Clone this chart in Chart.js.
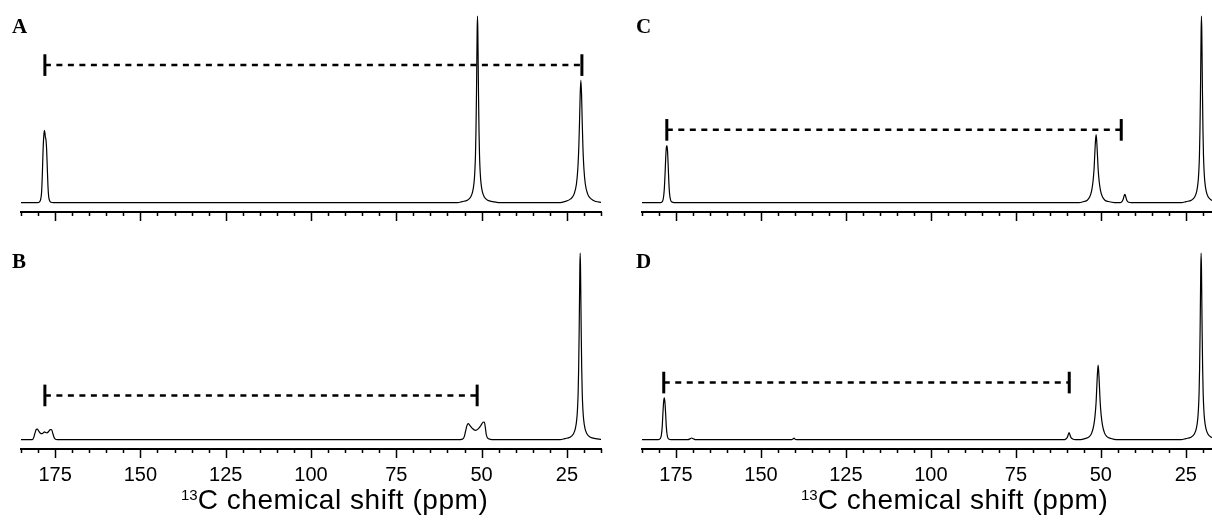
<!DOCTYPE html>
<html>
<head>
<meta charset="utf-8">
<script src="https://cdn.jsdelivr.net/npm/chart.js@4.4.0/dist/chart.umd.min.js"></script>
<style>
  body { margin: 0; background: #fff; width: 1212px; height: 521px; overflow: hidden; position: relative; }
  canvas { position: absolute; }
  .tag { position: absolute; font: bold 21px "Liberation Serif", "Times New Roman", serif; line-height: 1; color: #000; }
  .axis-title { position: absolute; font: 28px "Liberation Sans", Arial, sans-serif; line-height: 1; color: #000;
      white-space: nowrap; letter-spacing: 0.55px; }
  .axis-title sup { font-size: 15px; vertical-align: 9px; line-height: 0; letter-spacing: 0; }
</style>
</head>
<body>
<canvas id="chartA" width="606" height="224" style="left:0;top:0"></canvas>
<canvas id="chartC" width="606" height="224" style="left:606px;top:0"></canvas>
<canvas id="chartB" width="606" height="284" style="left:0;top:237px"></canvas>
<canvas id="chartD" width="606" height="284" style="left:606px;top:237px"></canvas>
<div class="tag" style="left:12px;top:16px">A</div>
<div class="tag" style="left:12px;top:251px">B</div>
<div class="tag" style="left:636px;top:16px">C</div>
<div class="tag" style="left:636px;top:251px">D</div>
<div class="axis-title" style="left:181px;top:486px"><sup>13</sup>C chemical shift (ppm)</div>
<div class="axis-title" style="left:801px;top:486px"><sup>13</sup>C chemical shift (ppm)</div>
<script>
// axis ticks (ppm), every 5 ppm, labelled every 25
const tickValues = [185, 180, 175, 170, 165, 160, 155, 150, 145, 140, 135, 130, 125, 120, 115, 110,
    105, 100, 95, 90, 85, 80, 75, 70, 65, 60, 55, 50, 45, 40, 35, 30, 25, 20, 15];
const labelValues = [175, 150, 125, 100, 75, 50, 25];

// spectra: [ppm, relative intensity]
const spectrumA = [
    [185, 0], [180.2, 0], [179.5, 0.6], [179.2, 2], [178.95, 6], [178.75, 15], [178.55, 27], [178.35, 35],
    [178.15, 38.7], [178.0, 37.5], [177.85, 35], [177.7, 34], [177.5, 29], [177.3, 19], [177.1, 9],
    [176.9, 3.5], [176.6, 1], [176.2, 0.2], [175.5, 0],
    [57, 0], [55.7, 0.6], [54.2, 1.3], [53.2, 3], [52.6, 6], [52.2, 11], [52.0, 16], [51.8, 25],
    [51.65, 38], [51.5, 58], [51.4, 75], [51.3, 92], [51.2, 100], [51.1, 92], [51.0, 75], [50.9, 58],
    [50.75, 38], [50.6, 25], [50.4, 16], [50.2, 11], [49.8, 6], [49.2, 3], [48.2, 1.3], [46.7, 0.6], [45, 0],
    [27, 0], [25.6, 0.6], [23.9, 2], [22.9, 4.6], [22.2, 10], [21.8, 18], [21.5, 30], [21.3, 43],
    [21.1, 58], [20.9, 65.6], [20.7, 58], [20.5, 43], [20.3, 30], [20.0, 18], [19.6, 10], [18.9, 4.6],
    [17.9, 2], [16.5, 0.6], [15, 0.2]
];
const spectrumB = [
    [185, 0], [181.7, 0], [181.3, 1], [180.9, 3.5], [180.5, 5.5], [180.2, 5.6], [179.8, 4.6], [179.3, 3.4],
    [178.9, 3.2], [178.5, 3.6], [178.1, 4.2], [177.8, 3.8], [177.4, 3.6], [176.9, 4.4], [176.4, 5.4],
    [176.0, 5.3], [175.7, 3.5], [175.3, 1.2], [174.9, 0.2], [174.3, 0],
    [57, 0], [55.6, 0.3], [55.1, 1.5], [54.7, 4.5], [54.3, 7.5], [53.9, 8.6], [53.5, 7.8], [52.8, 6.2],
    [51.8, 5.0], [51.0, 5.8], [50.2, 7.6], [49.6, 9.3], [49.2, 9.4], [48.9, 6.5], [48.6, 2.5], [48.2, 0.8],
    [47.5, 0.2], [46, 0],
    [27, 0], [25.6, 0.6], [24.1, 1.3], [23.1, 3], [22.5, 6], [22.1, 11], [21.9, 16], [21.7, 25],
    [21.55, 38], [21.4, 58], [21.3, 75], [21.2, 92], [21.1, 100], [21.0, 92], [20.9, 75], [20.8, 58],
    [20.65, 38], [20.5, 25], [20.3, 16], [20.1, 11], [19.7, 6], [19.1, 3], [18.1, 1.3], [16.6, 0.6], [15, 0.2]
];
const spectrumC = [
    [185, 0], [179.5, 0], [179.0, 0.6], [178.7, 2.5], [178.45, 7], [178.2, 16], [178.0, 25], [177.8, 30],
    [177.65, 30.5], [177.5, 28], [177.3, 20], [177.1, 11], [176.9, 5], [176.6, 1.5], [176.2, 0.3], [175.5, 0],
    [56.5, 0], [55, 0.6], [54, 1.3], [53.3, 3], [52.7, 6.5], [52.3, 11.5], [52.0, 18], [51.8, 25.5],
    [51.6, 32.5], [51.4, 36.5], [51.2, 32.5], [51.0, 25.5], [50.8, 18], [50.5, 11.5], [50.1, 6.5],
    [49.5, 3], [48.8, 1.3], [47.8, 0.6], [46, 0],
    [44.4, 0], [43.8, 0.6], [43.4, 2], [43.1, 4], [42.9, 4.5], [42.65, 3], [42.3, 1], [41.8, 0.2], [41, 0],
    [26.3, 0], [24.9, 0.6], [23.4, 1.3], [22.4, 3], [21.8, 6], [21.4, 11], [21.2, 16], [21.0, 25],
    [20.85, 38], [20.7, 58], [20.6, 75], [20.5, 92], [20.4, 100], [20.3, 92], [20.2, 75], [20.1, 58],
    [19.95, 38], [19.8, 25], [19.6, 16], [19.4, 11], [19.0, 6], [18.4, 3], [17.4, 1.3], [17.3, 1.2]
];
const spectrumD = [
    [185, 0], [180.2, 0], [179.6, 0.6], [179.3, 2.5], [179.05, 7], [178.85, 14], [178.65, 20],
    [178.45, 22.4], [178.25, 20], [178.05, 14], [177.85, 7], [177.6, 2.5], [177.3, 0.6], [176.8, 0.1], [176, 0],
    [171.5, 0], [170.9, 0.4], [170.4, 0.9], [169.9, 0.5], [169.2, 0],
    [141, 0], [140.5, 0.5], [140.25, 0.9], [140.0, 0.3], [139.5, 0],
    [61, 0], [60.3, 0.4], [59.9, 1.2], [59.6, 2.6], [59.35, 3.8], [59.1, 2.6], [58.8, 1.2], [58.3, 0.4], [57.5, 0],
    [56, 0], [54.5, 0.7], [53.4, 1.6], [52.7, 3.5], [52.1, 7.5], [51.7, 13], [51.4, 20], [51.2, 28],
    [51.0, 35.5], [50.8, 40], [50.6, 35.5], [50.4, 28], [50.2, 20], [49.9, 13], [49.5, 7.5], [48.9, 3.5],
    [48.2, 1.6], [47.1, 0.7], [45.5, 0],
    [26.4, 0], [25, 0.6], [23.5, 1.3], [22.5, 3], [21.9, 6], [21.5, 11], [21.3, 16], [21.1, 25],
    [20.95, 38], [20.8, 58], [20.7, 75], [20.6, 92], [20.5, 100], [20.4, 92], [20.3, 75], [20.2, 58],
    [20.05, 38], [19.9, 25], [19.7, 16], [19.5, 11], [19.1, 6], [18.5, 3], [17.5, 1.3], [17.3, 1.2]
];

// dashed brackets: [from ppm, to ppm, intensity level]
const bracketA = [178.0, 20.6, 73.7];
const bracketB = [178.0, 51.3, 23.7];
const bracketC = [177.7, 44.0, 39.0];
const bracketD = [178.6, 59.3, 30.6];

const BAR_HALF = 5.8;

// tick marks drawn on the x scale, long for labelled ones
const tickMarks = {
    id: 'tickMarks',
    afterDraw(chart) {
        const x = chart.scales.x;
        const ctx = chart.ctx;
        ctx.save();
        ctx.strokeStyle = '#000';
        ctx.lineWidth = 1.5;
        tickValues.forEach(v => {
            if (v < x.min || v > x.max) return;
            const px = Math.round(x.getPixelForValue(v)) + 0.5;
            const len = labelValues.includes(v) ? 9 : 4;
            ctx.beginPath();
            ctx.moveTo(px, x.top);
            ctx.lineTo(px, x.top + len);
            ctx.stroke();
        });
        ctx.restore();
    }
};

const makePanel = (id, spectrum, bracket, xMin, showLabels, padLeft, padRight, axisHeight) => {
    const [from, to, level] = bracket;
    const datasets = [{
        data: spectrum.map(p => ({ x: p[0], y: p[1] })),
        borderColor: '#000',
        borderWidth: 1.2,
        cubicInterpolationMode: 'monotone'
    }, {
        data: [{ x: from, y: level }, { x: to, y: level }],
        borderColor: '#000',
        borderWidth: 2.5,
        borderDash: [6, 5.5]
    }, {
        data: [{ x: from, y: level - BAR_HALF }, { x: from, y: level + BAR_HALF }],
        borderColor: '#000',
        borderWidth: 3
    }, {
        data: [{ x: to, y: level - BAR_HALF }, { x: to, y: level + BAR_HALF }],
        borderColor: '#000',
        borderWidth: 3
    }];
    return new Chart(document.getElementById(id), {
        type: 'line',
        data: { datasets: datasets },
        plugins: [tickMarks],
        options: {
            responsive: false,
            animation: false,
            devicePixelRatio: 1,
            layout: { padding: { left: padLeft, right: padRight, top: 16, bottom: 0 } },
            elements: { point: { radius: 0 }, line: { tension: 0 } },
            datasets: { line: { clip: false } },
            plugins: { legend: { display: false }, tooltip: { enabled: false } },
            scales: {
                x: {
                    type: 'linear',
                    reverse: true,
                    min: xMin,
                    max: 185,
                    border: { display: true, color: '#000', width: 2 },
                    grid: { display: false, drawTicks: false },
                    afterBuildTicks: s => {
                        s.ticks = labelValues.filter(v => v >= s.min && v <= s.max).map(v => ({ value: v }));
                    },
                    afterFit: s => { s.height = axisHeight; },
                    ticks: {
                        display: showLabels,
                        color: '#000',
                        font: { family: 'Liberation Sans', size: 20 },
                        padding: 14,
                        maxRotation: 0,
                        autoSkip: false,
                        callback: v => String(v)
                    }
                },
                y: { display: false, min: -5, max: 100 }
            }
        }
    });
};

makePanel('chartA', spectrumA, bracketA, 15, false, 21, 5, 12);
makePanel('chartB', spectrumB, bracketB, 15, true, 21, 5, 72);
makePanel('chartC', spectrumC, bracketC, 17.3, false, 36, 0, 12);
makePanel('chartD', spectrumD, bracketD, 17.3, true, 36, 0, 72);
</script>
</body>
</html>
